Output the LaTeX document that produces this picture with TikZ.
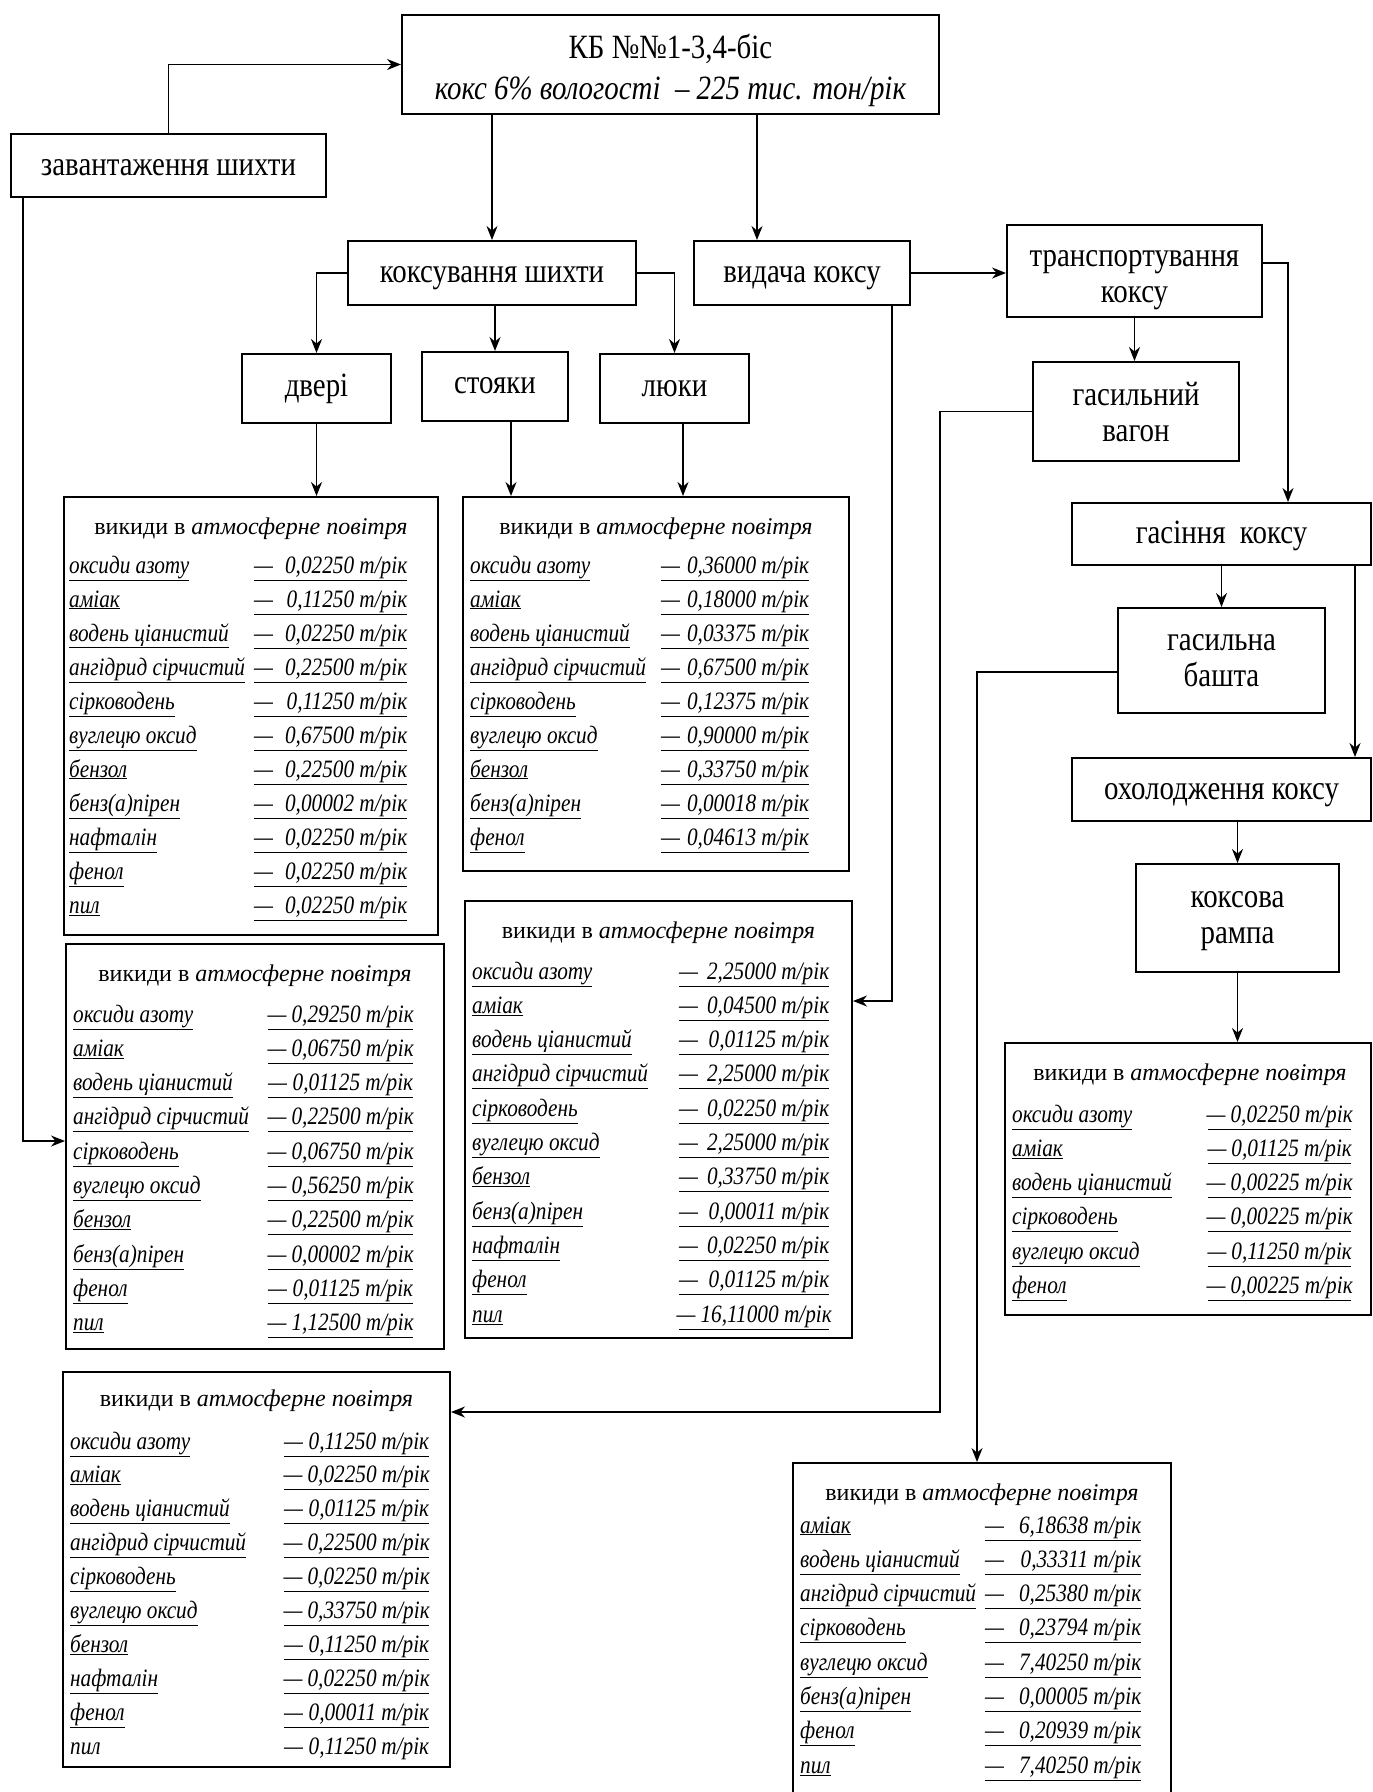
\documentclass[tikz,border=0pt]{standalone}
\usepackage{fontspec}
\setmainfont{Liberation Serif}[FakeStretch=0.85]
\newfontfamily\hdrfont{Liberation Serif}
\usetikzlibrary{arrows.meta}
\tikzset{
 proc/.style={draw, line width=2pt, inner sep=0pt, font=\fontsize{34}{36}\selectfont, text height=19pt, text depth=0pt},
 proctwo/.style={proc, text height=0pt, text depth=#1},
 ebox/.style={draw, line width=2pt, inner sep=0pt},
 hdr/.style={inner sep=0pt, anchor=base, font=\hdrfont\fontsize{24}{28}\selectfont},
 lbl/.style={inner sep=0pt, anchor=base west, font=\fontsize{25}{28}\selectfont\itshape},
 val/.style={inner sep=0pt, anchor=base west, font=\fontsize{25}{28}\selectfont\itshape},
 arr/.style={line width=1.6pt, -{Stealth[length=14pt,width=11pt]}},
}
\newcommand\twolines[2]{\begin{tabular}[t]{@{}c@{}}#1\\#2\end{tabular}}
\newcommand\emrows[7]{%
  \foreach \lab/\val [count=\i from 0] in {#7} {
    \node[lbl] (#1l\i) at (#2, {#5+\i*#6}) {\underline{\lab}};
    \node[val] (#1v\i) at (#3, {#5+\i*#6}) {\underline{\makebox[\dimexpr#4pt-#3pt\relax]{—\hskip 5pt plus 1fill\val~т/рік}}};
  }}
\begin{document}
\begin{tikzpicture}[x=1pt,y=-1pt]
\fill[white] (0,0) rectangle (1373,1792);
\useasboundingbox (0,0) rectangle (1373,1792);

% process boxes
\node[proctwo=13pt, font=\fontsize{34}{41}\selectfont, minimum width=537pt, minimum height=99pt] (kb) at (670.5,64.5) {\twolines{КБ №№1-3,4-біс}{\textit{кокс 6\% вологості \ – 225 тис. тон/рік}}};
\node[proc, minimum width=315pt, minimum height=63pt] (zav) at (168.5,165.5) {завантаження шихти};
\node[proc, minimum width=288pt, minimum height=64pt] (koks) at (492,273) {коксування шихти};
\node[proc, minimum width=216pt, minimum height=64pt] (vyd) at (802,273) {видача коксу};
\node[proctwo=9pt, minimum width=255pt, minimum height=92pt] (trans) at (1134.5,271) {\twolines{транспортування}{коксу}};
\node[proc, minimum width=149pt, minimum height=69pt, text height=15pt] (dveri) at (316.5,388.5) {двері};
\node[proc, minimum width=146pt, minimum height=69pt, text height=14pt] (stoyaky) at (495,386.5) {стояки};
\node[proc, minimum width=149pt, minimum height=69pt, text height=15pt] (lyuky) at (674.5,388.5) {люки};
\node[proctwo=12pt, minimum width=206pt, minimum height=99pt] (vagon) at (1136,411.5) {\twolines{гасильний}{вагон}};
\node[proc, minimum width=299pt, minimum height=62pt] (has) at (1221.5,534) {гасіння\ \ коксу};
\node[proctwo=20pt, minimum width=207pt, minimum height=105pt] (bashta) at (1221.5,660.5) {\twolines{гасильна}{башта}};
\node[proc, minimum width=299pt, minimum height=63pt] (okh) at (1221.5,789.5) {охолодження коксу};
\node[proctwo=22pt, minimum width=203pt, minimum height=108pt] (rampa) at (1237.5,918) {\twolines{коксова}{рампа}};

% emission boxes
\node[ebox, minimum width=374pt, minimum height=438pt] (E1) at (251,716) {};
\node[ebox, minimum width=386pt, minimum height=374pt] (E2) at (656,684) {};
\node[ebox, minimum width=378pt, minimum height=405pt] (E3) at (255,1146.5) {};
\node[ebox, minimum width=387pt, minimum height=437pt] (E4) at (658.5,1119.5) {};
\node[ebox, minimum width=366pt, minimum height=272pt] (E5) at (1188,1179) {};
\node[ebox, minimum width=387pt, minimum height=395pt] (E6) at (256.5,1569.5) {};
\node[ebox, minimum width=378pt, minimum height=337pt] (E7) at (982,1631.5) {};

\node[hdr] (E1h) at (251,534) {викиди в \textit{атмосферне повітря}};
\node[hdr] (E2h) at (656,534) {викиди в \textit{атмосферне повітря}};
\node[hdr] (E3h) at (255,981) {викиди в \textit{атмосферне повітря}};
\node[hdr] (E4h) at (658.5,938) {викиди в \textit{атмосферне повітря}};
\node[hdr] (E5h) at (1190,1080) {викиди в \textit{атмосферне повітря}};
\node[hdr] (E6h) at (256.5,1406) {викиди в \textit{атмосферне повітря}};
\node[hdr] (E7h) at (982,1500) {викиди в \textit{атмосферне повітря}};

\emrows{E1}{69}{254}{407}{573}{34}{оксиди азоту/0{,}02250, аміак/0{,}11250, водень ціанистий/0{,}02250, ангідрид сірчистий/0{,}22500, сірководень/0{,}11250, вуглецю оксид/0{,}67500, бензол/0{,}22500, бенз(а)пірен/0{,}00002, нафталін/0{,}02250, фенол/0{,}02250, пил/0{,}02250}
\emrows{E2}{470}{661}{809}{573}{34}{оксиди азоту/0{,}36000, аміак/0{,}18000, водень ціанистий/0{,}03375, ангідрид сірчистий/0{,}67500, сірководень/0{,}12375, вуглецю оксид/0{,}90000, бензол/0{,}33750, бенз(а)пірен/0{,}00018, фенол/0{,}04613}
\emrows{E3}{73}{268}{413}{1022}{34.3}{оксиди азоту/0{,}29250, аміак/0{,}06750, водень ціанистий/0{,}01125, ангідрид сірчистий/0{,}22500, сірководень/0{,}06750, вуглецю оксид/0{,}56250, бензол/0{,}22500, бенз(а)пірен/0{,}00002, фенол/0{,}01125, пил/1{,}12500}
\emrows{E4}{472}{679}{829}{979}{34.3}{оксиди азоту/2{,}25000, аміак/0{,}04500, водень ціанистий/0{,}01125, ангідрид сірчистий/2{,}25000, сірководень/0{,}02250, вуглецю оксид/2{,}25000, бензол/0{,}33750, бенз(а)пірен/0{,}00011, нафталін/0{,}02250, фенол/0{,}01125, пил/16{,}11000}
\emrows{E5}{1012}{1208}{1351}{1122}{34.3}{оксиди азоту/0{,}02250, аміак/0{,}01125, водень ціанистий/0{,}00225, сірководень/0{,}00225, вуглецю оксид/0{,}11250, фенол/0{,}00225}
\emrows{E6}{70}{284}{429}{1449}{33.9}{оксиди азоту/0{,}11250, аміак/0{,}02250, водень ціанистий/0{,}01125, ангідрид сірчистий/0{,}22500, сірководень/0{,}02250, вуглецю оксид/0{,}33750, бензол/0{,}11250, нафталін/0{,}02250, фенол/0{,}00011}
\node[lbl] (E6l9) at (70,1754) {пил};
\node[val] (E6v9) at (284,1754) {\makebox[145pt]{—\hskip 5pt plus 1fill 0,11250~т/рік}};
\emrows{E7}{800}{985}{1141}{1533}{34.3}{аміак/6{,}18638, водень ціанистий/0{,}33311, ангідрид сірчистий/0{,}25380, сірководень/0{,}23794, вуглецю оксид/7{,}40250, бенз(а)пірен/0{,}00005, фенол/0{,}20939, пил/7{,}40250}

% connectors
\coordinate (x23) at (23,1141);
\coordinate (x757) at (757,0);
\coordinate (x511) at (511,0);
\coordinate (x683) at (683,0);
\coordinate (c5) at (892,1001);
\coordinate (x1288) at (1288,263);
\coordinate (c7) at (940,1412);
\coordinate (x1355) at (1355,0);
\coordinate (c9) at (977,672);

\draw[arr] (zav.north) |- (kb.west);
\draw[arr] (zav.south -| x23) -- (x23) -- (x23 -| E3.west);
\draw[arr] (kb.south -| koks.north) -- (koks.north);
\draw[arr] (kb.south -| x757) -- (vyd.north -| x757);
\draw[arr] (koks.west) -| (dveri.north);
\draw[arr] (koks.south -| stoyaky.north) -- (stoyaky.north);
\draw[arr] (koks.east) -| (lyuky.north);
\draw[arr] (dveri.south) -- (dveri.south |- E1.north);
\draw[arr] (stoyaky.south -| x511) -- (x511 |- E2.north);
\draw[arr] (lyuky.south -| x683) -- (x683 |- E2.north);
\draw[arr] (vyd.east) -- (vyd.east -| trans.west);
\draw[arr] (vyd.south -| c5) -- (c5) -- (c5 -| E4.east);
\draw[arr] (trans.south) -- (trans.south |- vagon.north);
\draw[arr] (x1288 -| trans.east) -- (x1288) -- (x1288 |- has.north);
\draw[arr] (vagon.west) -| (c7) -- (c7 -| E6.east);
\draw[arr] (has.south -| bashta.north) -- (bashta.north);
\draw[arr] (has.south -| x1355) -- (okh.north -| x1355);
\draw[arr] (c9 -| bashta.west) -- (c9) -- (c9 |- E7.north);
\draw[arr] (okh.south -| rampa.north) -- (rampa.north);
\draw[arr] (rampa.south) -- (rampa.south |- E5.north);
\end{tikzpicture}
\end{document}
